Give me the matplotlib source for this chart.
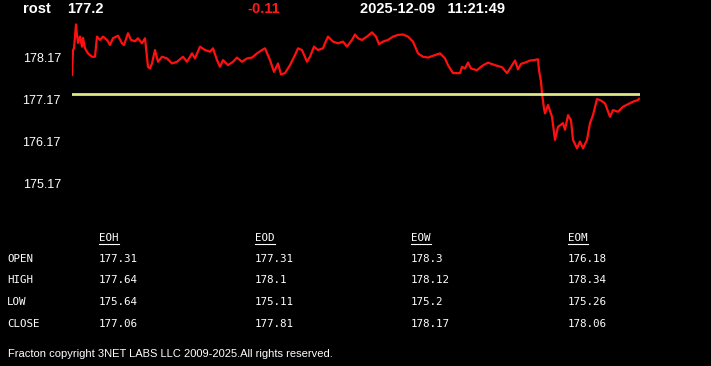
import matplotlib
matplotlib.use("Agg")
import matplotlib.pyplot as plt
from matplotlib.lines import Line2D

# header
symbol = "rost"
last_price = "177.2"
change = "-0.11"
stamp = "2025-12-09   11:21:49"

# intraday trace (t = sample step, price)
t = [0, 1, 2, 4, 5, 6, 8, 10, 11, 13, 16, 20, 23, 25, 28, 31, 35, 38, 41, 46,
     50, 52, 56, 59, 63, 66, 70, 73, 76, 78, 80, 83, 86, 90, 95, 100, 105, 111,
     115, 120, 123, 128, 133, 138, 141, 145, 148, 151, 156, 161, 165, 170, 175,
     180, 185, 190, 193, 198, 202, 206, 209, 213, 218, 223, 226, 230, 235, 238,
     242, 246, 251, 253, 256, 261, 266, 271, 275, 280, 283, 286, 290, 295, 300,
     304, 307, 311, 316, 321, 326, 331, 336, 341, 346, 351, 356, 363, 368, 373,
     376, 381, 388, 390, 393, 396, 399, 405, 410, 416, 423, 430, 435, 438, 443,
     446, 449, 453, 458, 462, 466, 467, 469, 470, 472, 473, 476, 480, 483, 486,
     491, 493, 496, 499, 501, 505, 508, 511, 515, 518, 521, 525, 528, 533, 538,
     541, 546, 551, 556, 561, 566, 567]
price = [177.77, 178.36, 178.40, 178.97, 178.72, 178.53, 178.68, 178.44, 178.65,
         178.40, 178.28, 178.20, 178.20, 178.68, 178.60, 178.68, 178.60, 178.48,
         178.64, 178.70, 178.52, 178.48, 178.76, 178.60, 178.57, 178.64, 178.52,
         178.64, 177.96, 177.92, 178.04, 178.36, 178.08, 178.20, 178.16, 178.04,
         178.08, 178.20, 178.08, 178.28, 178.16, 178.44, 178.36, 178.32, 178.40,
         178.12, 177.96, 178.12, 178.00, 178.08, 178.18, 178.08, 178.16, 178.18,
         178.28, 178.36, 178.40, 178.12, 177.84, 178.04, 177.78, 177.81, 178.00,
         178.24, 178.40, 178.36, 178.08, 178.20, 178.44, 178.36, 178.40, 178.52,
         178.68, 178.56, 178.52, 178.56, 178.44, 178.60, 178.73, 178.64, 178.60,
         178.68, 178.78, 178.68, 178.50, 178.56, 178.60, 178.68, 178.72, 178.73,
         178.68, 178.56, 178.28, 178.20, 178.18, 178.24, 178.28, 178.16, 178.00,
         177.81, 177.81, 177.96, 177.92, 178.06, 177.92, 177.88, 177.98, 178.06,
         178.00, 177.95, 177.81, 177.92, 178.11, 177.90, 178.03, 178.06, 178.11,
         178.12, 178.14, 177.88, 177.61, 177.33, 176.97, 176.85, 177.05, 176.77,
         176.22, 176.53, 176.62, 176.46, 176.81, 176.69, 176.22, 176.02, 176.18,
         176.02, 176.22, 176.62, 176.81, 177.19, 177.17, 177.09, 176.77, 176.93,
         176.89, 177.01, 177.07, 177.13, 177.17, 177.20]
ref_level = 177.31

yticks = [178.17, 177.17, 176.17, 175.17]

# summary table
columns = ["EOH", "EOD", "EOW", "EOM"]
rows = ["OPEN", "HIGH", "LOW", "CLOSE"]
table = [["177.31", "177.31", "178.3", "176.18"],
         ["177.64", "178.1", "178.12", "178.34"],
         ["175.64", "175.11", "175.2", "175.26"],
         ["177.06", "177.81", "178.17", "178.06"]]

footer = "Fracton copyright 3NET LABS LLC 2009-2025.All rights reserved."

W, H = 711, 366
fig = plt.figure(figsize=(W / 100, H / 100), dpi=100, facecolor="black")

def fx(px):
    return px / W

def fy(py):
    return 1 - py / H

ax = fig.add_axes([fx(72), fy(200), fx(640) - fx(72), (200 - 15) / H])
ax.set_facecolor("black")
ax.plot(t, price, color="#ff1010", lw=1.6)
ax.plot([0, 568], [ref_level, ref_level], color="#dfe882", lw=2)
ax.set_xlim(0, 568)
ax.set_ylim(177.17 - 100 / 42, 177.17 + 85 / 42)
ax.set_yticks(yticks)
ax.set_yticklabels([f"{v:.2f}" for v in yticks])
ax.tick_params(axis="y", length=0, pad=8, colors="white", labelsize=9)
ax.tick_params(axis="x", length=0, labelbottom=False)
for s in ax.spines.values():
    s.set_visible(False)
for lab in ax.get_yticklabels():
    lab.set_fontfamily("Liberation Sans")

hdr = dict(fontfamily="Liberation Sans", fontweight="bold", fontsize=10.5,
           va="center", ha="left")
fig.text(fx(23), fy(9), symbol, color="white", **hdr)
fig.text(fx(67), fy(9), last_price, color="white", **hdr)
fig.text(fx(247), fy(9), change, color="#ff1a1a", **hdr)
fig.text(fx(360), fy(9), stamp, color="white", **hdr)

mono = dict(fontfamily="DejaVu Sans Mono", fontsize=7.8, color="white",
            va="center", ha="left")
col_x = [99, 255, 411, 568]
row_y = [259, 280, 302, 324]
char_w = 0.602 * 7.8 * 100 / 72
for cx, name in zip(col_x, columns):
    fig.text(fx(cx), fy(238), name, **mono)
    fig.add_artist(Line2D([fx(cx), fx(cx + char_w * len(name))],
                          [fy(244), fy(244)], color="white", lw=0.8))
for ry, rname, vals in zip(row_y, rows, table):
    fig.text(fx(7), fy(ry), rname, **mono)
    for cx, v in zip(col_x, vals):
        fig.text(fx(cx), fy(ry), v, **mono)

fig.text(fx(8), fy(354), footer, color="white", fontsize=8.0,
         fontfamily="Liberation Sans", va="center", ha="left")

fig.savefig("out.png", dpi=100, facecolor="black")
